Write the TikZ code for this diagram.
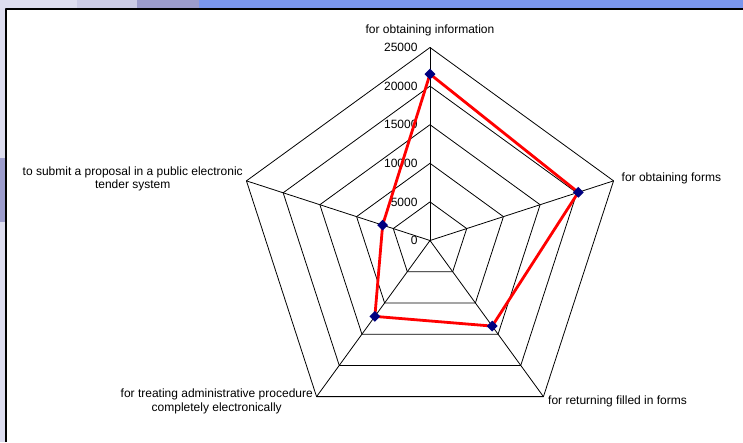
\documentclass[tikz,border=0pt]{standalone}
\usepackage{fontspec}
\setmainfont{Liberation Sans}
\usepackage{xcolor}
\usetikzlibrary{shapes.geometric}
\definecolor{markblue}{HTML}{000080}
\definecolor{slideblue}{HTML}{7A96EE}
\definecolor{slidemid}{HTML}{9C9CCC}
\definecolor{slidelight}{HTML}{CCCCE6}
\definecolor{slidepale}{HTML}{DDDDEF}

\begin{document}
\begin{tikzpicture}[x=1pt,y=1pt,line cap=round,line join=round,
    grid/.style={line width=0.8pt,black},
    series/.style={line width=2.8pt,red},
    marker/.style={diamond,fill=markblue,inner sep=0pt,minimum size=11pt},
    axislabel/.style={font=\fontsize{12}{13.5}\selectfont,align=center,inner sep=0pt},
    ticklabel/.style={font=\fontsize{12}{13}\selectfont,anchor=east,inner sep=0pt}]
    \useasboundingbox (-430,240.5) rectangle (313,-201.5);
    % slide background round the chart
    \fill[white] (-430,240.5) rectangle (313,-201.5);
    \fill[slidepale] (-430,240.5) rectangle (-353,231.5);
    \fill[slidelight] (-353,240.5) rectangle (-293,231.5);
    \fill[slidemid] (-293,240.5) rectangle (-231,231.5);
    \fill[slideblue] (-231,240.5) rectangle (313,231.5);
    \fill[slidepale] (-430,231.5) rectangle (-424,-201.5);
    \fill[slidemid] (-430,82.5) rectangle (-424,18.5);
    \draw[line width=1.5pt,line cap=butt] (-424,-201.5) -- (-424,231.5) -- (313,231.5);
    % rings and spokes
    \foreach \r in {1,...,5}
        \draw[grid] (90:\r*38.6) -- (18:\r*38.6) -- (-54:\r*38.6) -- (-126:\r*38.6) -- (162:\r*38.6) -- cycle;
    \foreach \a in {90,18,-54,-126,162}
        \draw[grid] (0,0) -- (\a:193);
    % scale
    \foreach \v [count=\i from 0] in {0,5000,10000,15000,20000,25000}
        \node[ticklabel] (tick\i) at (-12.3,\i*38.6) {\v};
    % axis names
    \node[axislabel] (info) at (0,210.5) {for obtaining information};
    \node[axislabel,anchor=west] (forms) at (191.5,62.5) {for obtaining forms};
    \node[axislabel,anchor=west] (returning) at (118,-160.5) {for returning filled in forms};
    \node[axislabel,anchor=east] (treating) at (-117,-161) {for treating administrative procedure\\completely electronically};
    \node[axislabel,anchor=east] (submit) at (-187,61.5) {to submit a proposal in a public electronic\\tender system};
    % data
    \coordinate (pinfo) at (90:166.4);
    \coordinate (pforms) at (18:155.9);
    \coordinate (preturning) at (-54:105.8);
    \coordinate (ptreating) at (-126:93.8);
    \coordinate (psubmit) at (162:49.8);
    \draw[series] (pinfo) -- (pforms) -- (preturning) -- (ptreating) -- (psubmit) -- cycle;
    \foreach \p in {pinfo,pforms,preturning,ptreating,psubmit}
        \node[marker] (m\p) at (\p) {};
\end{tikzpicture}
\end{document}
